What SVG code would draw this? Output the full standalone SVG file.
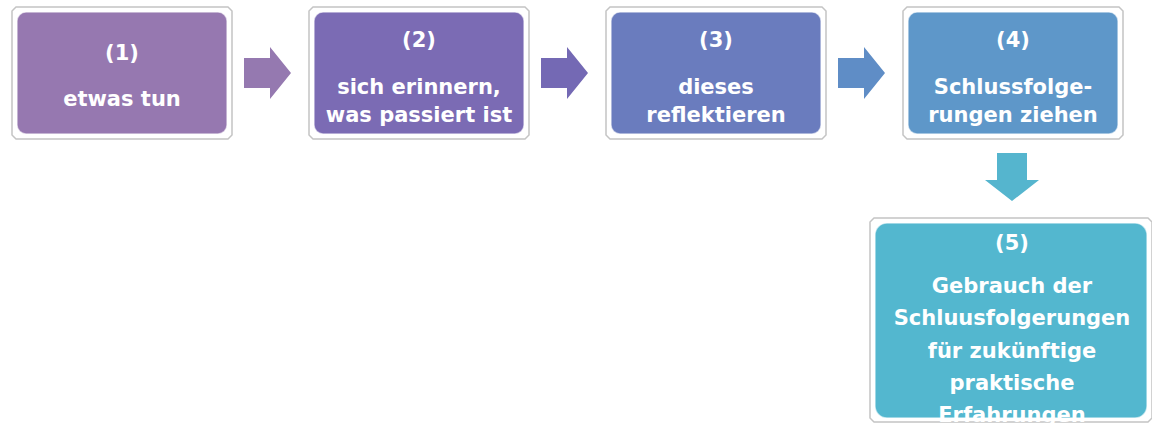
<svg xmlns="http://www.w3.org/2000/svg" width="1152" height="423" viewBox="0 0 1152 423">
<style>
.frame{fill:#ffffff;stroke:#c4c4c4;stroke-width:1.5}
.box{stroke:#ffffff;stroke-opacity:0.6;stroke-width:1.5}
.t{fill:#ffffff;font-family:"DejaVu Sans","Open Sans",sans-serif;font-weight:bold;font-size:21px;text-anchor:middle}
</style>
<rect width="1152" height="423" fill="#ffffff"/>
<g id="connectors">
<polygon points="244,58 270,58 270,47 291,73 270,99 270,88 244,88" fill="#9579B0"/>
<polygon points="541,58 567,58 567,47 588,73 567,99 567,88 541,88" fill="#7469B4"/>
<polygon points="838,58 864,58 864,47 885,73 864,99 864,88 838,88" fill="#5F8DC6"/>
<polygon points="997,153 1027,153 1027,180 1039,180 1012,201 985,180 997,180" fill="#55B5CE"/>
</g>
<g id="node1">
<path class="frame" d="M16,7 H228 L232,11 V135 L228,139 H16 L12,135 V11 Z"/>
<rect class="box" x="17" y="12" width="210" height="122" rx="9" fill="#9678B0"/>
<text class="t" x="122" y="60">(1)</text>
<text class="t" x="122" y="106">etwas tun</text>
</g>
<g id="node2">
<path class="frame" d="M313,7 H525 L529,11 V135 L525,139 H313 L309,135 V11 Z"/>
<rect class="box" x="314" y="12" width="210" height="122" rx="9" fill="#7B6BB4"/>
<text class="t" x="419" y="47">(2)</text>
<text class="t" x="419" y="94">sich erinnern,</text>
<text class="t" x="419" y="122">was passiert ist</text>
</g>
<g id="node3">
<path class="frame" d="M610,7 H822 L826,11 V135 L822,139 H610 L606,135 V11 Z"/>
<rect class="box" x="611" y="12" width="210" height="122" rx="9" fill="#6A7CBE"/>
<text class="t" x="716" y="47">(3)</text>
<text class="t" x="716" y="94">dieses</text>
<text class="t" x="716" y="122">reflektieren</text>
</g>
<g id="node4">
<path class="frame" d="M907,7 H1119 L1123,11 V135 L1119,139 H907 L903,135 V11 Z"/>
<rect class="box" x="908" y="12" width="210" height="122" rx="9" fill="#5E97C9"/>
<text class="t" x="1013" y="47">(4)</text>
<text class="t" x="1013" y="94">Schlussfolge-</text>
<text class="t" x="1013" y="122">rungen ziehen</text>
</g>
<g id="node5">
<path class="frame" d="M874,218 H1148 L1152,222 V418 L1148,422 H874 L870,418 V222 Z"/>
<rect class="box" x="875" y="223" width="272" height="195" rx="12" fill="#53B7CF"/>
<text class="t" x="1012" y="250">(5)</text>
<text class="t" x="1012" y="293">Gebrauch der</text>
<text class="t" x="1012" y="325">Schluusfolgerungen</text>
<text class="t" x="1012" y="358">für zukünftige</text>
<text class="t" x="1012" y="390">praktische</text>
<text class="t" x="1012" y="422">Erfahrungen</text>
</g>
</svg>
